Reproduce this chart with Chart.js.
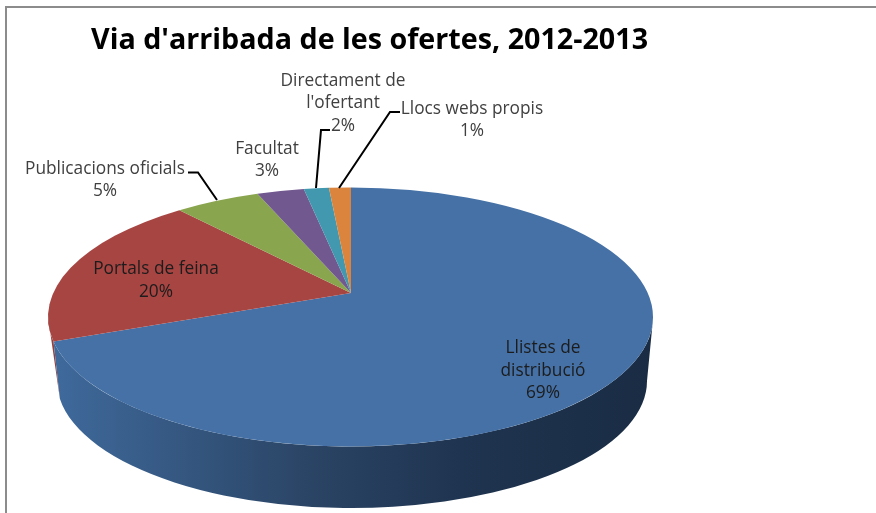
<html>
  <head>
    <script src="https://cdn.jsdelivr.net/npm/chart.js"></script>
    <meta charset="UTF-8" />
    <style>
      body { margin: 0; background: #fff; }
    </style>
  </head>
  <body>
    <canvas id="myChart" width="876" height="513"></canvas>
    <script>
      const categories = [
        "Llistes de distribució",
        "Portals de feina",
        "Publicacions oficials",
        "Facultat",
        "Directament de l'ofertant",
        "Llocs webs propis",
      ];
      const shares = [69.1, 19.5, 5.4, 3.0, 1.6, 1.4];
      const sliceColors = ["#4571a6", "#a74543", "#89a54e", "#71588f", "#4198af", "#db843d"];

      // where the text sits; first line is wrapped the way the picture wraps it
      const labelBoxes = [
        { lines: ["Llistes de", "distribució"], x: 543, y: 348.5, color: "#1c1c1c" },
        { lines: ["Portals de feina"], x: 156, y: 269.5, color: "#1c1c1c" },
        { lines: ["Publicacions oficials"], x: 105, y: 169, color: "#404040" },
        { lines: ["Facultat"], x: 267, y: 149, color: "#404040" },
        { lines: ["Directament de", "l'ofertant"], x: 343, y: 81, color: "#404040" },
        { lines: ["Llocs webs propis"], x: 472, y: 109, color: "#404040" },
      ];
      const leaders = [
        [[188, 172.5], [198, 172.5], [217, 200]],
        [[330, 130], [321, 130], [316, 188]],
        [[400, 112], [390, 112], [339, 188]],
      ];

      const top3d = { cx: 350.5, cy: 317, rx: 302.5, ry: 129.5 };
      const bottom3d = { cx: 352, cy: 381, rx: 295, ry: 127 };
      const apex = { x: 351, y: 293 };
      const tilt = 0.42;
      const deg = Math.PI / 180;

      // param angle on the top ellipse where a slice edge hits the rim
      const rimParam = (angle) => {
        const theta = angle + Math.PI / 2;
        const dx = Math.sin(theta) / top3d.rx;
        const dy = (-Math.cos(theta) * tilt) / top3d.ry;
        const ox = (apex.x - top3d.cx) / top3d.rx;
        const oy = (apex.y - top3d.cy) / top3d.ry;
        const a = dx * dx + dy * dy;
        const b = 2 * (ox * dx + oy * dy);
        const c = ox * ox + oy * oy - 1;
        const t = (-b + Math.sqrt(b * b - 4 * a * c)) / (2 * a);
        return Math.atan2(oy + t * dy, ox + t * dx);
      };

      const pie3d = {
        id: "pie3d",
        beforeDraw(chart) {
          const { ctx, width, height } = chart;
          ctx.save();
          ctx.fillStyle = "#fff";
          ctx.fillRect(0, 0, width, height);
          ctx.fillStyle = "#8c8c8c";
          ctx.fillRect(5, 6, width - 5, 2);
          ctx.fillRect(5, 6, 2, height - 6);
          ctx.restore();
        },
        beforeDatasetsDraw(chart) {
          const { ctx } = chart;
          const arcs = chart.getDatasetMeta(0).data;
          const blueEnd = rimParam(arcs[0].endAngle);
          const wallStart = 3.5 * deg;
          const bottomEnd = 172 * deg;

          // side wall, red sliver first so the blue one covers its seam
          ctx.save();
          ctx.fillStyle = "#96403e";
          ctx.beginPath();
          ctx.ellipse(top3d.cx, top3d.cy, top3d.rx, top3d.ry, 0, blueEnd, Math.PI);
          ctx.lineTo(
            bottom3d.cx + bottom3d.rx * Math.cos(bottomEnd),
            bottom3d.cy + bottom3d.ry * Math.sin(bottomEnd)
          );
          ctx.closePath();
          ctx.fill();

          const wall = ctx.createLinearGradient(52, 0, 653, 0);
          wall.addColorStop(0, "#3f6a9c");
          wall.addColorStop(0.42, "#2b4566");
          wall.addColorStop(0.68, "#1f3450");
          wall.addColorStop(1, "#1a2c44");
          ctx.fillStyle = wall;
          ctx.beginPath();
          ctx.ellipse(top3d.cx, top3d.cy, top3d.rx, top3d.ry, 0, wallStart, blueEnd);
          ctx.ellipse(bottom3d.cx, bottom3d.cy, bottom3d.rx, bottom3d.ry, 0, bottomEnd, 0, true);
          ctx.closePath();
          ctx.fill();

          // top face
          arcs.forEach((arc, i) => {
            ctx.fillStyle = sliceColors[i];
            ctx.beginPath();
            ctx.moveTo(apex.x, apex.y);
            ctx.ellipse(
              top3d.cx, top3d.cy, top3d.rx, top3d.ry, 0,
              rimParam(arc.startAngle), rimParam(arc.endAngle)
            );
            ctx.closePath();
            ctx.fill();
          });
          ctx.restore();
          return false;
        },
        afterDraw(chart) {
          const { ctx } = chart;
          ctx.save();
          ctx.strokeStyle = "#000";
          ctx.lineWidth = 2;
          leaders.forEach((points) => {
            ctx.beginPath();
            points.forEach(([x, y], i) => (i ? ctx.lineTo(x, y) : ctx.moveTo(x, y)));
            ctx.stroke();
          });
          ctx.font = "17.3px 'Open Sans'";
          ctx.textAlign = "center";
          ctx.textBaseline = "middle";
          labelBoxes.forEach((box, i) => {
            ctx.fillStyle = box.color;
            const lines = [...box.lines, Math.round(shares[i]) + "%"];
            lines.forEach((line, n) => ctx.fillText(line, box.x, box.y + n * 22.5));
          });
          ctx.restore();
        },
      };

      new Chart(document.getElementById("myChart"), {
        type: "pie",
        data: {
          labels: categories,
          datasets: [{ data: shares, backgroundColor: sliceColors, borderWidth: 0 }],
        },
        options: {
          responsive: false,
          animation: false,
          layout: { padding: { left: 91, top: 24 } },
          plugins: {
            legend: { display: false },
            tooltip: { enabled: false },
            title: {
              display: true,
              text: "Via d'arribada de les ofertes, 2012-2013",
              align: "start",
              color: "#000",
              font: { family: "'Open Sans'", size: 28.7, weight: "bold" },
              padding: 0,
            },
          },
        },
        plugins: [pie3d],
      });
    </script>
  </body>
</html>
